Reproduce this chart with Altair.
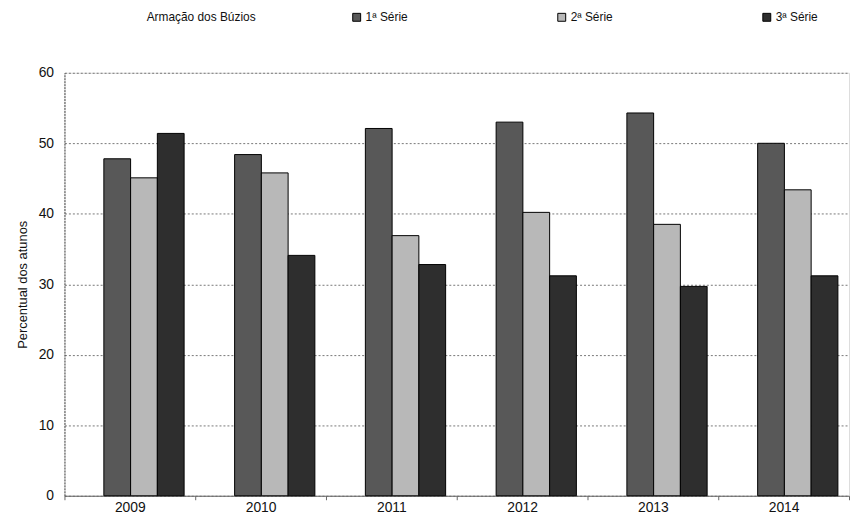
import altair as alt
import pandas as pd

years = ["2009", "2010", "2011", "2012", "2013", "2014"]
series = ["1ª Série", "2ª Série", "3ª Série"]
serie1 = [47.8, 48.4, 52.1, 53.0, 54.3, 50.0]
serie2 = [45.1, 45.8, 36.9, 40.2, 38.5, 43.4]
serie3 = [51.4, 34.1, 32.8, 31.2, 29.7, 31.2]
colors = ["#585858", "#b8b8b8", "#2e2e2e"]
y_ticks = [0, 10, 20, 30, 40, 50, 60]

rows = []
for s, vals in zip(series, [serie1, serie2, serie3]):
    for yr, v in zip(years, vals):
        rows.append({"Ano": yr, "Serie": s, "Valor": v})
df = pd.DataFrame(rows)

FONT = "Liberation Sans"

chart = alt.Chart(df).mark_bar(stroke="black", strokeWidth=1).encode(
    x=alt.X("Ano:N", sort=years,
            scale=alt.Scale(paddingInner=0, paddingOuter=0),
            axis=alt.Axis(title=None, labelAngle=0, tickBand="extent", tickSize=4,
                          labelPadding=1, domainColor="#666", tickColor="#666",
                          labelFontSize=14, labelFont=FONT, labelColor="#111")),
    xOffset=alt.XOffset("Serie:N", sort=series,
                        scale=alt.Scale(paddingInner=0, paddingOuter=0.944, align=0.78)),
    y=alt.Y("Valor:Q", scale=alt.Scale(domain=[0, 60]),
            axis=alt.Axis(values=y_ticks, title="Percentual dos atunos", grid=True,
                          gridDash=[2, 2], gridColor="#777", gridWidth=1,
                          domainColor="#444", domainDash=[2, 1], ticks=False,
                          labelPadding=11, labelFontSize=14, labelFont=FONT,
                          labelColor="#111", titleFont=FONT, titleFontSize=13,
                          titleFontWeight="normal", titleColor="#111", titlePadding=9)),
    color=alt.Color("Serie:N", sort=series,
                    scale=alt.Scale(domain=series, range=colors),
                    legend=alt.Legend(orient="none", legendX=83, legendY=-62,
                                      direction="horizontal", titleOrient="left",
                                      title="Armação dos Búzios", titleFont=FONT,
                                      titleFontSize=12, titleFontWeight="normal",
                                      titleColor="#111", titlePadding=95,
                                      symbolType="square", symbolSize=64,
                                      symbolStrokeColor="black", symbolStrokeWidth=1,
                                      labelFont=FONT, labelFontSize=12, labelColor="#111",
                                      labelOffset=3, columnPadding=149))
).properties(
    width=792, height=427,
    autosize=alt.AutoSizeParams(type="none"),
    padding={"left": 57, "top": 63, "right": 1, "bottom": 16}
).configure_view(stroke=None).configure(background="white")

chart.save("out.html", embed_options={"renderer": "svg", "actions": False})
